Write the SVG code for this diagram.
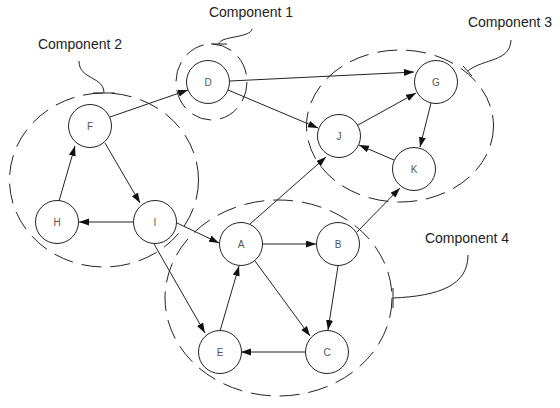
<svg xmlns="http://www.w3.org/2000/svg" width="560" height="408" viewBox="0 0 560 408">
  <style>
    .node circle { fill: #fff; stroke: #222; stroke-width: 1; }
    .node text { font-family: "Liberation Sans", Arial, sans-serif; font-size: 10px; fill: #555; text-anchor: middle; dominant-baseline: central; }
    .edge { stroke: #222; stroke-width: 1; fill: none; marker-end: url(#arrow); }
    .group { fill: none; stroke: #222; stroke-width: 1; stroke-dasharray: 20 9; }
    .brace { fill: none; stroke: #222; stroke-width: 1; }
    .label { font-family: "Liberation Sans", Arial, sans-serif; font-size: 14px; fill: #222; text-anchor: middle; }
  </style>
  <defs>
    <marker id="arrow" markerUnits="userSpaceOnUse" markerWidth="11" markerHeight="8" refX="10" refY="3.5" orient="auto">
      <path d="M0,0 L10,3.5 L0,7 z" fill="#111"/>
    </marker>
  </defs>

  <rect width="560" height="408" fill="#fff"/>

  <!-- component outlines -->
  <g id="components">
    <ellipse class="group" cx="211.5" cy="82" rx="35.5" ry="38" stroke-dasharray="14 7"/>
    <ellipse class="group" cx="104" cy="180" rx="94.5" ry="87"/>
    <ellipse class="group" cx="400" cy="126" rx="93.5" ry="76"/>
    <ellipse class="group" cx="278.5" cy="298" rx="113.5" ry="98"/>
  </g>

  <!-- component callouts -->
  <g id="callouts">
    <path class="brace" d="M211,44 H227 M219,44 C219,36 251,38 252,29"/>
    <text class="label" x="251" y="17">Component 1</text>
    <path class="brace" d="M93,93 H115 M104,93 C104,76 79,80 79,61"/>
    <text class="label" x="80" y="49">Component 2</text>
    <path class="brace" d="M463,66 L472,76 M467.5,71 C485,58 510,62 511,40"/>
    <text class="label" x="510" y="27">Component 3</text>
    <path class="brace" d="M393,288 V308 M393,298 C440,296 468,285 468,255"/>
    <text class="label" x="467" y="243">Component 4</text>
  </g>

  <!-- connectors -->
  <g id="connectors">
    <line class="edge" x1="110" y1="117" x2="188" y2="90"/>
    <line class="edge" x1="230" y1="81" x2="414" y2="72"/>
    <line class="edge" x1="228" y1="90" x2="318" y2="128"/>
    <line class="edge" x1="358" y1="125" x2="416" y2="93"/>
    <line class="edge" x1="431" y1="103" x2="420" y2="147"/>
    <line class="edge" x1="394" y1="160" x2="359" y2="145"/>
    <line class="edge" x1="250" y1="224" x2="326" y2="157"/>
    <line class="edge" x1="357" y1="232" x2="400" y2="188"/>
    <line class="edge" x1="133" y1="222" x2="79" y2="222"/>
    <line class="edge" x1="59" y1="201" x2="75" y2="146"/>
    <line class="edge" x1="105" y1="143" x2="140" y2="203"/>
    <line class="edge" x1="177" y1="223" x2="219" y2="243"/>
    <line class="edge" x1="154" y1="244" x2="205" y2="333"/>
    <line class="edge" x1="262" y1="244" x2="316" y2="244"/>
    <line class="edge" x1="255" y1="261" x2="310" y2="336"/>
    <line class="edge" x1="220" y1="331" x2="239" y2="266"/>
    <line class="edge" x1="338" y1="266" x2="328" y2="330"/>
    <line class="edge" x1="306" y1="352" x2="241" y2="352"/>
  </g>

  <!-- nodes -->
  <g id="node-D" class="node"><circle cx="208" cy="82" r="21.5"/><text x="208" y="82">D</text></g>
  <g id="node-F" class="node"><circle cx="90" cy="126" r="21.5"/><text x="90" y="126">F</text></g>
  <g id="node-G" class="node"><circle cx="436" cy="82" r="21.5"/><text x="436" y="82">G</text></g>
  <g id="node-J" class="node"><circle cx="339" cy="136" r="21.5"/><text x="339" y="136">J</text></g>
  <g id="node-K" class="node"><circle cx="414" cy="169" r="21.5"/><text x="414" y="169">K</text></g>
  <g id="node-H" class="node"><circle cx="57" cy="222" r="21.5"/><text x="57" y="222">H</text></g>
  <g id="node-I" class="node"><circle cx="155" cy="222" r="21.5"/><text x="155" y="222">I</text></g>
  <g id="node-A" class="node"><circle cx="241" cy="244" r="21.5"/><text x="241" y="244">A</text></g>
  <g id="node-B" class="node"><circle cx="338" cy="244" r="21.5"/><text x="338" y="244">B</text></g>
  <g id="node-E" class="node"><circle cx="220" cy="352" r="21.5"/><text x="220" y="352">E</text></g>
  <g id="node-C" class="node"><circle cx="327" cy="352" r="21.5"/><text x="327" y="352">C</text></g>
</svg>
